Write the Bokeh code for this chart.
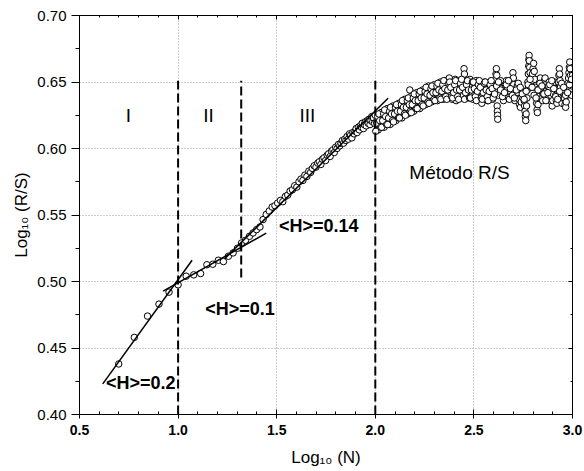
from bokeh.plotting import figure
from bokeh.models import (Range1d, LinearAxis, SingleIntervalTicker,
                          NumeralTickFormatter, Label, ColumnDataSource)
from bokeh.embed import file_html
from bokeh.resources import INLINE

# ---------------- data ----------------
# log10(N) for the sparse part (N = 5 .. 99)
early_x = [
    0.699, 0.778, 0.845, 0.903, 0.954, 1.000, 1.041, 1.079, 1.114, 1.146,
    1.176, 1.204, 1.230, 1.255, 1.279, 1.301, 1.322, 1.342, 1.362, 1.380,
    1.398, 1.415, 1.431, 1.447, 1.462, 1.477, 1.491, 1.505, 1.519, 1.531,
    1.544, 1.556, 1.568, 1.580, 1.591, 1.602, 1.613, 1.623, 1.633, 1.643,
    1.653, 1.663, 1.672, 1.681, 1.690, 1.699, 1.708, 1.716, 1.724, 1.732,
    1.740, 1.748, 1.756, 1.763, 1.771, 1.778, 1.785, 1.792, 1.799, 1.806,
    1.813, 1.820, 1.826, 1.833, 1.839, 1.845, 1.851, 1.857, 1.863, 1.869,
    1.875, 1.881, 1.886, 1.892, 1.898, 1.903, 1.908, 1.914, 1.919, 1.924,
    1.929, 1.934, 1.940, 1.944, 1.949, 1.954, 1.959, 1.964, 1.968, 1.973,
    1.978, 1.982, 1.987, 1.991, 1.996,
]
early_y = [
    0.438, 0.458, 0.474, 0.483, 0.492, 0.4975, 0.504, 0.505, 0.506, 0.5126,
    0.513, 0.516, 0.515, 0.519, 0.5215, 0.525, 0.529, 0.531, 0.534, 0.5365,
    0.539, 0.541, 0.5466, 0.5504, 0.553, 0.556, 0.557, 0.559, 0.561, 0.560,
    0.564, 0.565, 0.568, 0.569, 0.572, 0.571, 0.575, 0.577, 0.576, 0.580,
    0.579, 0.583, 0.582, 0.585, 0.587, 0.586, 0.589, 0.590, 0.588, 0.592,
    0.593, 0.591, 0.595, 0.596, 0.594, 0.598, 0.599, 0.597, 0.601, 0.600,
    0.603, 0.602, 0.604, 0.606, 0.604, 0.607, 0.606, 0.609, 0.607, 0.611,
    0.610, 0.608, 0.612, 0.611, 0.613, 0.615, 0.612, 0.616, 0.614, 0.617,
    0.616, 0.619, 0.615, 0.618, 0.620, 0.617, 0.621, 0.619, 0.622, 0.618,
    0.621, 0.624, 0.620, 0.623, 0.619,
]

# dense, noisy part (log10 N from 2.0 to 3.0)
band_x = [
    2.000, 2.005, 2.010, 2.015, 2.020, 2.025, 2.030, 2.035, 2.040, 2.045,
    2.050, 2.055, 2.060, 2.065, 2.070, 2.075, 2.080, 2.085, 2.090, 2.095,
    2.100, 2.105, 2.110, 2.115, 2.120, 2.125, 2.130, 2.135, 2.140, 2.145,
    2.150, 2.155, 2.160, 2.165, 2.170, 2.175, 2.180, 2.185, 2.190, 2.195,
    2.200, 2.205, 2.210, 2.215, 2.220, 2.225, 2.230, 2.235, 2.240, 2.245,
    2.250, 2.255, 2.260, 2.265, 2.270, 2.275, 2.280, 2.285, 2.290, 2.295,
    2.300, 2.305, 2.310, 2.315, 2.320, 2.325, 2.330, 2.335, 2.340, 2.345,
    2.350, 2.355, 2.360, 2.365, 2.370, 2.375, 2.380, 2.385, 2.390, 2.395,
    2.400, 2.405, 2.410, 2.415, 2.420, 2.425, 2.430, 2.435, 2.440, 2.445,
    2.450, 2.452, 2.455, 2.460, 2.465, 2.470, 2.475, 2.480, 2.485, 2.490,
    2.495, 2.500, 2.505, 2.510, 2.515, 2.520, 2.525, 2.530, 2.535, 2.540,
    2.545, 2.550, 2.555, 2.560, 2.565, 2.570, 2.575, 2.580, 2.585, 2.590,
    2.595, 2.600, 2.605, 2.610, 2.612, 2.614, 2.616, 2.618, 2.619, 2.620,
    2.621, 2.625, 2.630, 2.635, 2.640, 2.645, 2.650, 2.655, 2.660, 2.665,
    2.670, 2.675, 2.680, 2.685, 2.690, 2.695, 2.698, 2.700, 2.702, 2.704,
    2.706, 2.708, 2.712, 2.716, 2.720, 2.724, 2.728, 2.732, 2.736, 2.740,
    2.744, 2.748, 2.752, 2.755, 2.757, 2.759, 2.761, 2.763, 2.765, 2.767,
    2.769, 2.771, 2.774, 2.776, 2.778, 2.779, 2.780, 2.781, 2.783, 2.785,
    2.788, 2.791, 2.794, 2.797, 2.800, 2.803, 2.806, 2.809, 2.812, 2.815,
    2.818, 2.820, 2.822, 2.825, 2.828, 2.831, 2.834, 2.837, 2.840, 2.843,
    2.846, 2.849, 2.852, 2.855, 2.858, 2.861, 2.864, 2.867, 2.870, 2.874,
    2.878, 2.882, 2.886, 2.890, 2.894, 2.897, 2.900, 2.903, 2.906, 2.909,
    2.912, 2.915, 2.918, 2.921, 2.924, 2.927, 2.929, 2.931, 2.933, 2.935,
    2.937, 2.939, 2.941, 2.944, 2.947, 2.950, 2.953, 2.956, 2.959, 2.962,
    2.965, 2.968, 2.971, 2.974, 2.977, 2.980, 2.982, 2.984, 2.986, 2.988,
    2.990, 2.992, 2.994, 2.996, 2.998, 3.000,
]
band_y = [
    0.625, 0.620, 0.615, 0.614, 0.619, 0.624, 0.627, 0.622, 0.617, 0.616,
    0.622, 0.627, 0.630, 0.625, 0.619, 0.618, 0.624, 0.629, 0.632, 0.627,
    0.622, 0.621, 0.627, 0.631, 0.634, 0.629, 0.624, 0.623, 0.628, 0.633,
    0.637, 0.632, 0.627, 0.626, 0.631, 0.644, 0.639, 0.634, 0.629, 0.628,
    0.634, 0.639, 0.642, 0.636, 0.631, 0.630, 0.635, 0.640, 0.644, 0.639,
    0.634, 0.633, 0.638, 0.643, 0.647, 0.641, 0.636, 0.635, 0.640, 0.645,
    0.648, 0.642, 0.637, 0.636, 0.642, 0.647, 0.650, 0.644, 0.638, 0.637,
    0.643, 0.649, 0.651, 0.645, 0.638, 0.653, 0.647, 0.641, 0.637, 0.643,
    0.650, 0.652, 0.636, 0.641, 0.646, 0.651, 0.644, 0.638, 0.642, 0.652,
    0.660, 0.656, 0.649, 0.643, 0.638, 0.645, 0.650, 0.652, 0.646, 0.640,
    0.637, 0.643, 0.649, 0.651, 0.645, 0.639, 0.637, 0.642, 0.648, 0.634,
    0.640, 0.646, 0.650, 0.644, 0.638, 0.636, 0.642, 0.648, 0.650, 0.643,
    0.637, 0.641, 0.647, 0.652, 0.656, 0.660, 0.655, 0.632, 0.628, 0.625,
    0.622, 0.640, 0.646, 0.651, 0.645, 0.639, 0.636, 0.642, 0.648, 0.651,
    0.644, 0.638, 0.637, 0.643, 0.649, 0.652, 0.657, 0.653, 0.648, 0.644,
    0.640, 0.636, 0.639, 0.643, 0.647, 0.642, 0.637, 0.633, 0.631, 0.635,
    0.639, 0.643, 0.640, 0.636, 0.632, 0.628, 0.624, 0.621, 0.626, 0.632,
    0.638, 0.644, 0.650, 0.656, 0.662, 0.667, 0.670, 0.666, 0.661, 0.657,
    0.652, 0.647, 0.651, 0.656, 0.660, 0.664, 0.658, 0.652, 0.646, 0.640,
    0.634, 0.629, 0.627, 0.633, 0.639, 0.645, 0.650, 0.653, 0.648, 0.643,
    0.638, 0.636, 0.641, 0.646, 0.651, 0.653, 0.648, 0.643, 0.638, 0.642,
    0.647, 0.650, 0.645, 0.640, 0.635, 0.632, 0.636, 0.641, 0.646, 0.650,
    0.645, 0.640, 0.636, 0.634, 0.639, 0.645, 0.650, 0.655, 0.660, 0.656,
    0.651, 0.646, 0.641, 0.637, 0.634, 0.638, 0.642, 0.643, 0.638, 0.633,
    0.631, 0.635, 0.640, 0.645, 0.649, 0.653, 0.657, 0.661, 0.665, 0.660,
    0.655, 0.650, 0.645, 0.640, 0.647, 0.655,
]

# second interleaved run of points inside the same band (2.0 .. 2.6)
band2_x = [
    2.0025, 2.0075, 2.0125, 2.0175, 2.0225, 2.0275, 2.0325, 2.0375, 2.0425, 2.0475,
    2.0525, 2.0575, 2.0625, 2.0675, 2.0725, 2.0775, 2.0825, 2.0875, 2.0925, 2.0975,
    2.1025, 2.1075, 2.1125, 2.1175, 2.1225, 2.1275, 2.1325, 2.1375, 2.1425, 2.1475,
    2.1525, 2.1575, 2.1625, 2.1675, 2.1725, 2.1775, 2.1825, 2.1875, 2.1925, 2.1975,
    2.2025, 2.2075, 2.2125, 2.2175, 2.2225, 2.2275, 2.2325, 2.2375, 2.2425, 2.2475,
    2.2525, 2.2575, 2.2625, 2.2675, 2.2725, 2.2775, 2.2825, 2.2875, 2.2925, 2.2975,
    2.3025, 2.3075, 2.3125, 2.3175, 2.3225, 2.3275, 2.3325, 2.3375, 2.3425, 2.3475,
    2.3525, 2.3575, 2.3625, 2.3675, 2.3725, 2.3775, 2.3825, 2.3875, 2.3925, 2.3975,
    2.4025, 2.4075, 2.4125, 2.4175, 2.4225, 2.4275, 2.4325, 2.4375, 2.4425, 2.4475,
    2.4525, 2.4575, 2.4625, 2.4675, 2.4725, 2.4775, 2.4825, 2.4875, 2.4925, 2.4975,
    2.5025, 2.5075, 2.5125, 2.5175, 2.5225, 2.5275, 2.5325, 2.5375, 2.5425, 2.5475,
    2.5525, 2.5575, 2.5625, 2.5675, 2.5725, 2.5775, 2.5825, 2.5875, 2.5925, 2.5975,
]
band2_y = [
    0.613, 0.619, 0.624, 0.626, 0.621, 0.616, 0.616, 0.621, 0.626, 0.629,
    0.624, 0.618, 0.618, 0.623, 0.628, 0.631, 0.626, 0.621, 0.620, 0.626,
    0.631, 0.633, 0.628, 0.623, 0.623, 0.628, 0.633, 0.636, 0.631, 0.626,
    0.625, 0.631, 0.636, 0.638, 0.633, 0.628, 0.627, 0.633, 0.638, 0.641,
    0.636, 0.630, 0.630, 0.636, 0.641, 0.643, 0.638, 0.633, 0.632, 0.638,
    0.643, 0.646, 0.641, 0.635, 0.634, 0.640, 0.645, 0.647, 0.642, 0.637,
    0.636, 0.642, 0.647, 0.649, 0.644, 0.638, 0.637, 0.643, 0.648, 0.651,
    0.645, 0.639, 0.637, 0.644, 0.649, 0.650, 0.646, 0.639, 0.638, 0.642,
    0.648, 0.651, 0.644, 0.639, 0.637, 0.644, 0.649, 0.652, 0.646, 0.640,
    0.637, 0.642, 0.648, 0.651, 0.644, 0.638, 0.638, 0.644, 0.650, 0.650,
    0.645, 0.639, 0.636, 0.643, 0.648, 0.651, 0.646, 0.638, 0.637, 0.642,
    0.649, 0.650, 0.644, 0.639, 0.636, 0.643, 0.648, 0.651, 0.645, 0.638,
]

# core of the band (2.6 .. 3.0)
band3_x = [
    2.605, 2.615, 2.625, 2.635, 2.645, 2.655, 2.665, 2.675, 2.685, 2.695,
    2.705, 2.715, 2.725, 2.735, 2.745, 2.755, 2.765, 2.775, 2.785, 2.795,
    2.805, 2.815, 2.825, 2.835, 2.845, 2.855, 2.865, 2.875, 2.885, 2.895,
    2.905, 2.915, 2.925, 2.935, 2.945, 2.955, 2.965, 2.975, 2.985, 2.995,
]
band3_y = [
    0.641, 0.647, 0.650, 0.644, 0.639, 0.642, 0.648, 0.651, 0.645, 0.640,
    0.638, 0.644, 0.649, 0.646, 0.641, 0.637, 0.643, 0.648, 0.652, 0.646,
    0.640, 0.638, 0.644, 0.649, 0.647, 0.641, 0.636, 0.642, 0.648, 0.651,
    0.645, 0.639, 0.637, 0.643, 0.649, 0.646, 0.640, 0.642, 0.648, 0.652,
]

# region boundaries (dashed) : x, top, bottom
bound_x = [1.0, 1.32, 2.0]
bound_top = [0.651, 0.651, 0.651]
bound_bottom = [0.40, 0.503, 0.40]

# fitted straight lines: start / end points
fit_x0 = [0.618, 0.924, 1.235]
fit_y0 = [0.423, 0.4927, 0.517]
fit_x1 = [1.071, 1.447, 2.065]
fit_y1 = [0.516, 0.5363, 0.6378]

region_names = ["I", "II", "III"]
hurst_texts = ["<H>=0.2", "<H>=0.1", "<H>=0.14"]
method_text = "Método R/S"

FONT = "Liberation Sans"

# ---------------- figure ----------------
p = figure(width=584, height=471, output_backend="svg", toolbar_location=None,
           x_range=Range1d(0.5, 3.0), y_range=Range1d(0.40, 0.7000001),
           min_border_left=79, min_border_right=12, min_border_top=15,
           min_border_bottom=57,
           x_axis_label="Log\u2081\u2080 (N)", y_axis_label="Log\u2081\u2080 (R/S)")
p.background_fill_color = "white"
p.border_fill_color = "white"
p.outline_line_color = "black"

xt = SingleIntervalTicker(interval=0.5, num_minor_ticks=5)
yt = SingleIntervalTicker(interval=0.05, num_minor_ticks=2)

xa = p.xaxis[0]
xa.ticker = xt
xa.formatter = NumeralTickFormatter(format="0.0")
xa.major_label_text_font = FONT
xa.major_label_text_font_style = "bold"
xa.major_label_text_font_size = "14px"
xa.major_label_text_color = "black"
xa.major_tick_in = 5
xa.major_tick_out = 4
xa.minor_tick_in = 3
xa.minor_tick_out = 0
xa.major_label_standoff = 6
xa.axis_label_text_font = FONT
xa.axis_label_text_font_style = "normal"
xa.axis_label_text_font_size = "17px"
xa.axis_label_text_color = "black"
xa.axis_label_standoff = 10
xa.axis_line_color = "black"
xa.major_tick_line_color = "black"
xa.minor_tick_line_color = "black"

ya = p.yaxis[0]
ya.ticker = yt
ya.formatter = NumeralTickFormatter(format="0.00")
ya.major_label_text_font = FONT
ya.major_label_text_font_size = "15px"
ya.major_label_text_color = "black"
ya.major_tick_in = 0
ya.major_tick_out = 8
ya.minor_tick_in = 0
ya.minor_tick_out = 4
ya.major_label_standoff = 5
ya.axis_label_text_font = FONT
ya.axis_label_text_font_style = "normal"
ya.axis_label_text_font_size = "17px"
ya.axis_label_text_color = "black"
ya.axis_label_standoff = 3
ya.axis_line_color = "black"

top = LinearAxis(ticker=SingleIntervalTicker(interval=0.5, num_minor_ticks=5),
                 major_label_text_font_size="1px", major_label_text_color=None,
                 major_tick_in=4, major_tick_out=0,
                 minor_tick_in=2, minor_tick_out=0, major_label_standoff=0)
p.add_layout(top, "above")
right = LinearAxis(ticker=SingleIntervalTicker(interval=0.05, num_minor_ticks=2),
                   major_label_text_font_size="1px", major_label_text_color=None,
                   major_tick_in=4, major_tick_out=0,
                   minor_tick_in=2, minor_tick_out=0, major_label_standoff=0)
p.add_layout(right, "right")

for g in (p.xgrid[0], p.ygrid[0]):
    g.grid_line_color = "#9a9a9a"
    g.grid_line_dash = "1 2"
    g.grid_line_width = 1

# data points
src = ColumnDataSource(data=dict(x=early_x + band_x + band2_x + band3_x,
                                 y=early_y + band_y + band2_y + band3_y))
p.scatter("x", "y", source=src, marker="circle", size=6.5, fill_color="white",
          line_color="black", line_width=1)

# dashed region boundaries
p.segment(x0=bound_x, y0=bound_bottom, x1=bound_x, y1=bound_top,
          line_color="black", line_width=2, line_dash="9 4")

# fit lines
p.segment(x0=fit_x0, y0=fit_y0, x1=fit_x1, y1=fit_y1,
          line_color="black", line_width=1.5)

# annotations
for name, xx in zip(region_names, [0.748, 1.154, 1.656]):
    p.add_layout(Label(x=xx, y=0.625, text=name, text_align="center",
                       text_baseline="middle", text_font=FONT,
                       text_font_size="19px", text_color="black"))

for t, xx, yy in zip(hurst_texts, [0.811, 1.314, 1.7135], [0.4237, 0.479, 0.5415]):
    p.add_layout(Label(x=xx, y=yy, text=t, text_align="center",
                       text_baseline="middle", text_font=FONT,
                       text_font_style="bold", text_font_size="18px",
                       text_color="black"))

p.add_layout(Label(x=2.427, y=0.582, text=method_text, text_align="center",
                   text_baseline="middle", text_font=FONT,
                   text_font_size="19px", text_color="black"))

open("out.html", "w").write(file_html(p, INLINE))
